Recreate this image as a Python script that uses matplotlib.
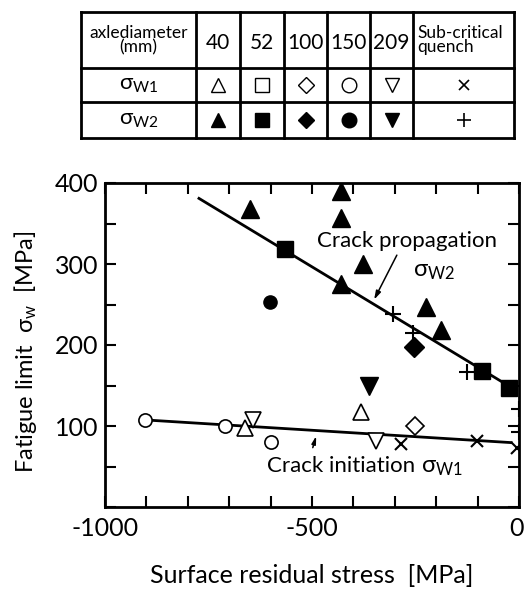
import matplotlib
matplotlib.use('Agg')
import matplotlib.pyplot as plt
from matplotlib.transforms import ScaledTranslation

plt.rcParams['font.family'] = ['Lato', 'DejaVu Sans']
plt.rcParams['mathtext.fontset'] = 'custom'
plt.rcParams['mathtext.rm'] = 'Lato'
plt.rcParams['mathtext.it'] = 'Lato'
plt.rcParams['axes.unicode_minus'] = False

# sigma_W2 (crack propagation), filled markers
w2_40_x = [-650, -430, -430, -430, -377, -225, -188]
w2_40_y = [368, 390, 357, 275, 300, 247, 218]
w2_52_x = [-565, -89, -24]
w2_52_y = [318, 168, 147]
w2_100_x = [-254]
w2_100_y = [197]
w2_150_x = [-601]
w2_150_y = [253]
w2_209_x = [-362]
w2_209_y = [150]
w2_sub_x = [-304, -256, -126, 0, 0]
w2_sub_y = [238, 215, 167, 121, 93]

# sigma_W1 (crack initiation), open markers
w1_40_x = [-662, -382]
w1_40_y = [97, 117]
w1_100_x = [-251]
w1_100_y = [100]
w1_150_x = [-903, -710, -599]
w1_150_y = [108, 100, 80]
w1_209_x = [-643, -346]
w1_209_y = [108, 81]
w1_sub_x = [-285, -101, -5]
w1_sub_y = [78, 81, 73]

# fitted lines
w2_line_x = [-773, -20]
w2_line_y = [381, 148]
w1_line_x = [-903, -19]
w1_line_y = [107.5, 79.5]

diameters = ['40', '52', '100', '150', '209']
markers = ['^', 's', 'D', 'o', 'v']

fig = plt.figure(figsize=(5.24, 5.90), dpi=100)
W, H = 524, 590

# ---- main plot
ax = fig.add_axes([105 / W, 1 - 507 / H, 414 / W, 324 / H])
ax.plot(w2_line_x, w2_line_y, color='black', lw=2, zorder=2)
ax.plot(w1_line_x, w1_line_y, color='black', lw=2, zorder=2)

filled = dict(color='black', ls='none', zorder=3)
ax.plot(w2_40_x, w2_40_y, marker='^', ms=13, **filled)
ax.plot(w2_52_x, w2_52_y, marker='s', ms=12, **filled)
ax.plot(w2_100_x, w2_100_y, marker='D', ms=10.5, **filled)
ax.plot(w2_150_x, w2_150_y, marker='o', ms=9.5, **filled)
ax.plot(w2_209_x, w2_209_y, marker='v', ms=13, **filled)
ax.plot(w2_sub_x, w2_sub_y, marker='+', ms=11, mew=1.5, **filled)

hollow = dict(color='black', mfc='white', ls='none', mew=1.2, zorder=3)
ax.plot(w1_40_x, w1_40_y, marker='^', ms=11, **hollow)
ax.plot(w1_100_x, w1_100_y, marker='D', ms=9, **hollow)
ax.plot(w1_150_x, w1_150_y, marker='o', ms=9.5, **hollow)
ax.plot(w1_209_x, w1_209_y, marker='v', ms=11, **hollow)
ax.plot(w1_sub_x, w1_sub_y, marker='x', ms=8, mew=1.5, color='black', ls='none', zorder=3)

ax.set_xlim(-1000, 0)
ax.set_ylim(0, 400)
ax.set_xticks([-1000, -500, 0])
ax.set_xticks(range(-1000, 1, 100), minor=True)
ax.set_yticks([100, 200, 300, 400])
ax.set_yticks(range(0, 401, 50), minor=True)
ax.tick_params(which='both', direction='in', length=8, width=1.5,
               top=True, right=True, labelsize=18)
ax.tick_params(axis='x', pad=7)
ax.tick_params(axis='y', pad=5)
for s in ax.spines.values():
    s.set_linewidth(2)
# nudge the "0" label so it stays inside the figure
last = ax.get_xticklabels()[-1]
last.set_transform(last.get_transform() + ScaledTranslation(-3 / 100, 0, fig.dpi_scale_trans))

ax.set_xlabel('Surface residual stress  [MPa]', fontsize=18)
ax.xaxis.set_label_coords(0.5, -0.175)
ax.set_ylabel(r'Fatigue limit  σ$_{\mathrm{w}}$  [MPa]', fontsize=17)
ax.yaxis.set_label_coords(-0.16, 0.48)

ax.text(-489, 329, 'Crack propagation', fontsize=16, va='center', ha='left')
ax.text(-256, 291, r'σ$_{\mathrm{W2}}$', fontsize=17, va='center', ha='left')
ax.annotate('', xy=(-353, 253), xytext=(-292, 314),
            arrowprops=dict(arrowstyle='-|>,head_length=0.5,head_width=0.15',
                            color='black', lw=1.1))

ax.text(-608, 50, 'Crack initiation', fontsize=16, va='center', ha='left')
ax.text(-237, 49, r'σ$_{\mathrm{W1}}$', fontsize=17, va='center', ha='left')
ax.annotate('', xy=(-488, 91), xytext=(-500, 70),
            arrowprops=dict(arrowstyle='-|>,head_length=0.45,head_width=0.12',
                            color='black', lw=1.1))

# ---- legend table
tx = fig.add_axes([81 / W, 1 - 138 / H, 433 / W, 126 / H])
col_edges = [81, 196, 240, 284, 327, 370, 413, 514]
row_edges = [12, 68, 102, 138]
tx.set_xlim(col_edges[0], col_edges[-1])
tx.set_ylim(row_edges[-1], row_edges[0])
tx.axis('off')
for xe in col_edges:
    tx.plot([xe, xe], [row_edges[0], row_edges[-1]], color='black', lw=2, clip_on=False)
for ye in row_edges:
    tx.plot([col_edges[0], col_edges[-1]], [ye, ye], color='black', lw=2, clip_on=False)

cx = [(a + b) / 2 for a, b in zip(col_edges[:-1], col_edges[1:])]
cy = [(a + b) / 2 for a, b in zip(row_edges[:-1], row_edges[1:])]

tx.text(cx[0], cy[0], 'axlediameter\n(mm)', fontsize=12.5, ha='center', va='center',
        linespacing=0.85)
for i, d in enumerate(diameters):
    tx.text(cx[i + 1], cy[0] + 3, d, fontsize=15, ha='center', va='center')
tx.text(col_edges[6] + 4, cy[0], 'Sub-critical\nquench', fontsize=12.5, ha='left',
        va='center', linespacing=0.85)

tx.text(cx[0], cy[1], r'σ$_{\mathrm{W1}}$', fontsize=16, ha='center', va='center')
tx.text(cx[0], cy[2], r'σ$_{\mathrm{W2}}$', fontsize=16, ha='center', va='center')
for i, m in enumerate(markers):
    size = 8 if m == 'D' else 10.5
    tx.plot(cx[i + 1], cy[1], marker=m, ms=size, color='black',
            mfc='white', mew=1.0, clip_on=False)
    tx.plot(cx[i + 1], cy[2], marker=m, ms=size, color='black', clip_on=False)
tx.plot(cx[6], cy[1], marker='x', ms=7.5, mew=1.2, color='black')
tx.plot(cx[6], cy[2], marker='+', ms=10, mew=1.2, color='black')

fig.savefig('out.png', dpi=100)
